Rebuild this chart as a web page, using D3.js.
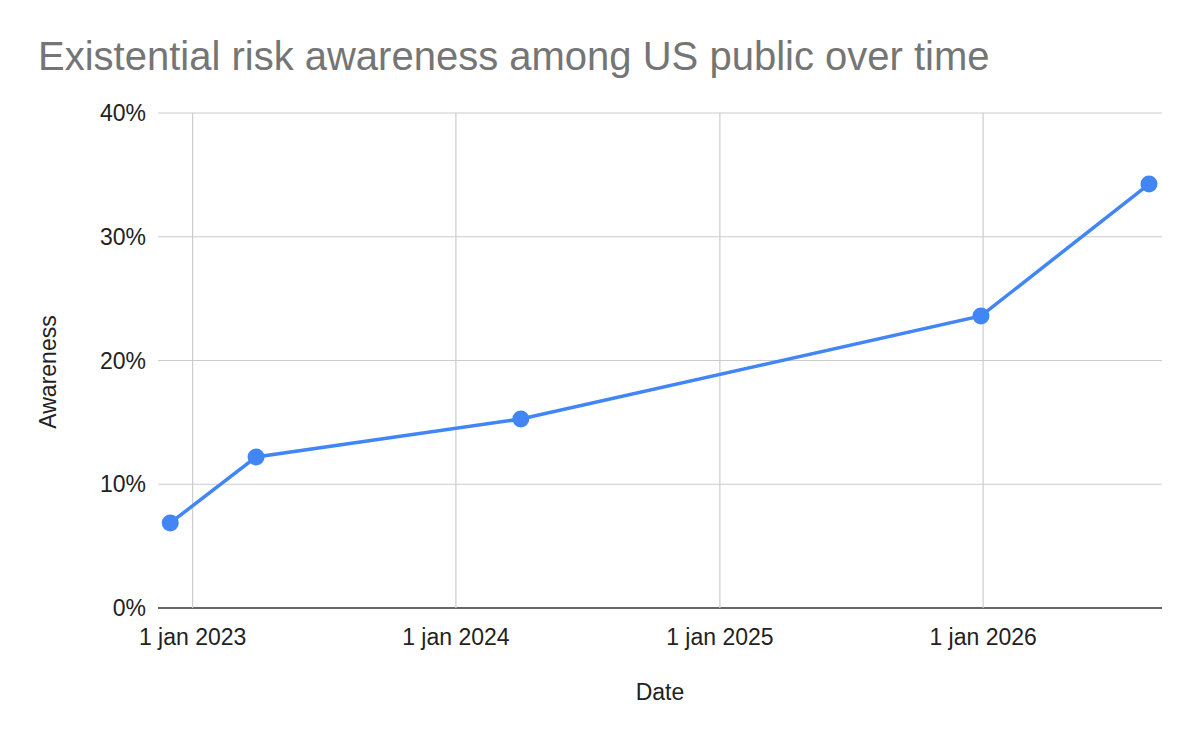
<!DOCTYPE html>
<html lang="en">
<head>
	<meta charset="UTF-8">
	<title>Existential risk awareness</title>
	<script src="https://d3js.org/d3.v7.min.js"></script>
	<style>body{margin:0;background:#fff;font-family:'Liberation Sans',Arial,sans-serif}</style>
</head>
<body>
	<div class="box"></div>
	<script type="text/javascript">
		let width = 1200
		let height = 742
		let padding = { top: 113, right: 38, bottom: 134, left: 158 }
		let svg = d3.select('.box').append('svg').attr('width', width).attr('height', height)

		let data = [
			{ date: '2022-12-01', value: 0.0687 },
			{ date: '2023-03-30', value: 0.122 },
			{ date: '2024-03-31', value: 0.1527 },
			{ date: '2025-12-29', value: 0.236 },
			{ date: '2026-08-19', value: 0.3426 }
		]
		let parse = d3.timeParse('%Y-%m-%d')
		data.forEach(d => d.t = parse(d.date))

		let x = d3.scaleTime()
			.domain([parse('2022-11-14'), parse('2026-09-06')])
			.range([padding.left, width - padding.right])
		let y = d3.scaleLinear().domain([0, 0.4]).range([height - padding.bottom, padding.top])

		let years = [2023, 2024, 2025, 2026].map(yr => new Date(yr, 0, 1))

		// grid
		svg.selectAll('.hgrid').data(y.ticks(4)).enter().append('line')
			.attr('x1', padding.left).attr('x2', width - padding.right)
			.attr('y1', d => y(d)).attr('y2', d => y(d))
			.attr('stroke', d => d === 0 ? '#333' : '#ccc').attr('stroke-width', d => d === 0 ? 1.5 : 1.2)
		svg.selectAll('.vgrid').data(years).enter().append('line')
			.attr('x1', d => x(d)).attr('x2', d => x(d))
			.attr('y1', padding.top).attr('y2', height - padding.bottom)
			.attr('stroke', '#ccc').attr('stroke-width', 1.2)

		// tick labels
		svg.selectAll('.ylab').data(y.ticks(4)).enter().append('text')
			.attr('x', padding.left - 12).attr('y', d => y(d)).attr('dy', '0.35em')
			.attr('text-anchor', 'end').attr('font-size', '23px').attr('fill', '#222')
			.text(d3.format('.0%'))
		svg.selectAll('.xlab').data(years).enter().append('text')
			.attr('x', d => x(d)).attr('y', height - padding.bottom + 37)
			.attr('text-anchor', 'middle').attr('font-size', '23px').attr('fill', '#222')
			.text(d => '1 jan ' + d.getFullYear())

		// titles
		svg.append('text').attr('x', 38).attr('y', 70).attr('font-size', '40px').attr('fill', '#757575')
			.text('Existential risk awareness among US public over time')
		svg.append('text').attr('x', 660).attr('y', 700).attr('text-anchor', 'middle')
			.attr('font-size', '23px').attr('fill', '#222').text('Date')
		svg.append('text').attr('transform', 'translate(56,372) rotate(-90)').attr('text-anchor', 'middle')
			.attr('font-size', '23px').attr('fill', '#222').text('Awareness')

		// line and points
		let line = d3.line().x(d => x(d.t)).y(d => y(d.value))
		svg.append('path').datum(data).attr('d', line)
			.attr('fill', 'none').attr('stroke', '#4285f4').attr('stroke-width', 3.5)
		svg.selectAll('circle').data(data).enter().append('circle')
			.attr('cx', d => x(d.t)).attr('cy', d => y(d.value)).attr('r', 8.5)
			.attr('fill', '#4285f4')
	</script>
</body>
</html>
